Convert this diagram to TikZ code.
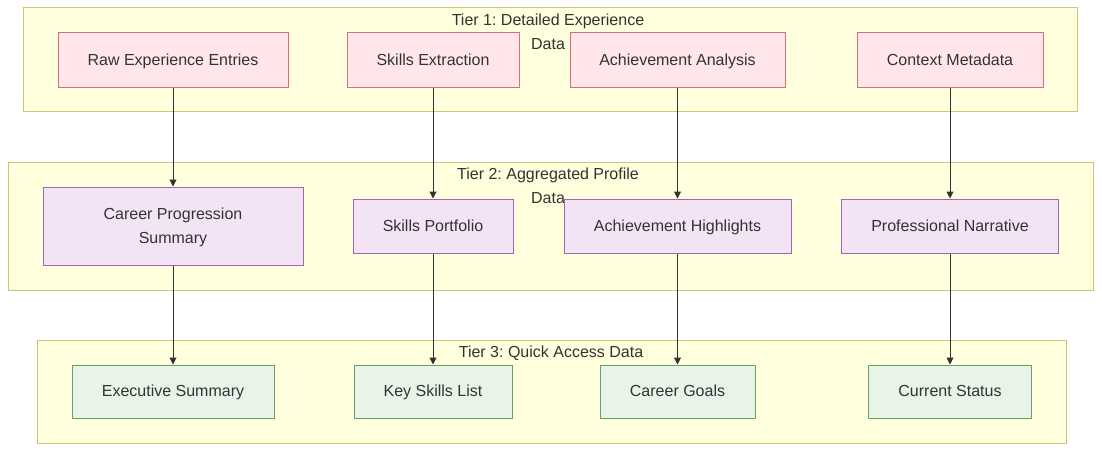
\documentclass[tikz,border=0pt]{standalone}
\usepackage{fontspec}
\setmainfont{Liberation Sans}
\usetikzlibrary{arrows.meta}
\frenchspacing
\definecolor{tierfill}{HTML}{FFFFDE}
\definecolor{tierdraw}{HTML}{C8C878}
\definecolor{redfill}{HTML}{FFE6EA}
\definecolor{reddraw}{HTML}{D4707A}
\definecolor{purfill}{HTML}{F3E4F5}
\definecolor{purdraw}{HTML}{A466B3}
\definecolor{grnfill}{HTML}{E8F4E8}
\definecolor{grndraw}{HTML}{66A066}
\definecolor{txt}{HTML}{333333}
\tikzset{
  tier/.style={draw=tierdraw, fill=tierfill, line width=1pt},
  tiertitle/.style={text=txt, font=\fontsize{16}{24}\selectfont, align=center, inner sep=0pt},
  box/.style={rectangle, line width=1pt, text=txt, font=\fontsize{16}{24}\selectfont, align=center, inner sep=0pt},
  one/.style={text height=12.5pt, text depth=2.5pt},
  two/.style={text height=36.5pt, text depth=2.5pt},
  rednode/.style={box, one, draw=reddraw, fill=redfill},
  purnode/.style={box, draw=purdraw, fill=purfill},
  grnnode/.style={box, one, draw=grndraw, fill=grnfill},
  flow/.style={draw=txt, line width=1pt, -{Triangle[length=7pt,width=7pt]}}
}
\begin{document}
\begin{tikzpicture}[x=1pt,y=-1pt]
\useasboundingbox (0,0) rectangle (1102,452);
\fill[white] (0,0) rectangle (1102,452);
% tier containers
\draw[tier] (23,8) rectangle (1077,111);
\draw[tier] (8,162) rectangle (1093,290);
\draw[tier] (37,340) rectangle (1066,443);
\node[tiertitle, two] (t1) at (548,32) {Tier 1: Detailed Experience\\Data};
\node[tiertitle, two] (t2) at (548,186) {Tier 2: Aggregated Profile\\Data};
\node[tiertitle, one] (t3) at (551,352.5) {Tier 3: Quick Access Data};
% tier 1
\node[rednode, minimum width=230, minimum height=54] (raw) at (173,60) {Raw Experience Entries};
\node[rednode, minimum width=172, minimum height=54] (skx) at (433,60) {Skills Extraction};
\node[rednode, minimum width=215, minimum height=54] (ach) at (677.5,60) {Achievement Analysis};
\node[rednode, minimum width=186, minimum height=54] (ctx) at (950,60) {Context Metadata};
% tier 2
\node[purnode, two, minimum width=260, minimum height=78] (cps) at (173,226) {Career Progression\\Summary};
\node[purnode, one, minimum width=160, minimum height=54] (skp) at (433,226) {Skills Portfolio};
\node[purnode, one, minimum width=227, minimum height=54] (ahl) at (677.5,226) {Achievement Highlights};
\node[purnode, one, minimum width=217, minimum height=54] (pnr) at (950,226) {Professional Narrative};
% tier 3
\node[grnnode, minimum width=202, minimum height=53] (exs) at (173,391.5) {Executive Summary};
\node[grnnode, minimum width=158, minimum height=53] (ksl) at (433,391.5) {Key Skills List};
\node[grnnode, minimum width=155, minimum height=53] (cgl) at (677.5,391.5) {Career Goals};
\node[grnnode, minimum width=163, minimum height=53] (cst) at (950,391.5) {Current Status};
% connectors
\draw[flow] (raw.south) -- (cps.north);
\draw[flow] (skx.south) -- (skp.north);
\draw[flow] (ach.south) -- (ahl.north);
\draw[flow] (ctx.south) -- (pnr.north);
\draw[flow] (cps.south) -- (exs.north);
\draw[flow] (skp.south) -- (ksl.north);
\draw[flow] (ahl.south) -- (cgl.north);
\draw[flow] (pnr.south) -- (cst.north);
\end{tikzpicture}
\end{document}
